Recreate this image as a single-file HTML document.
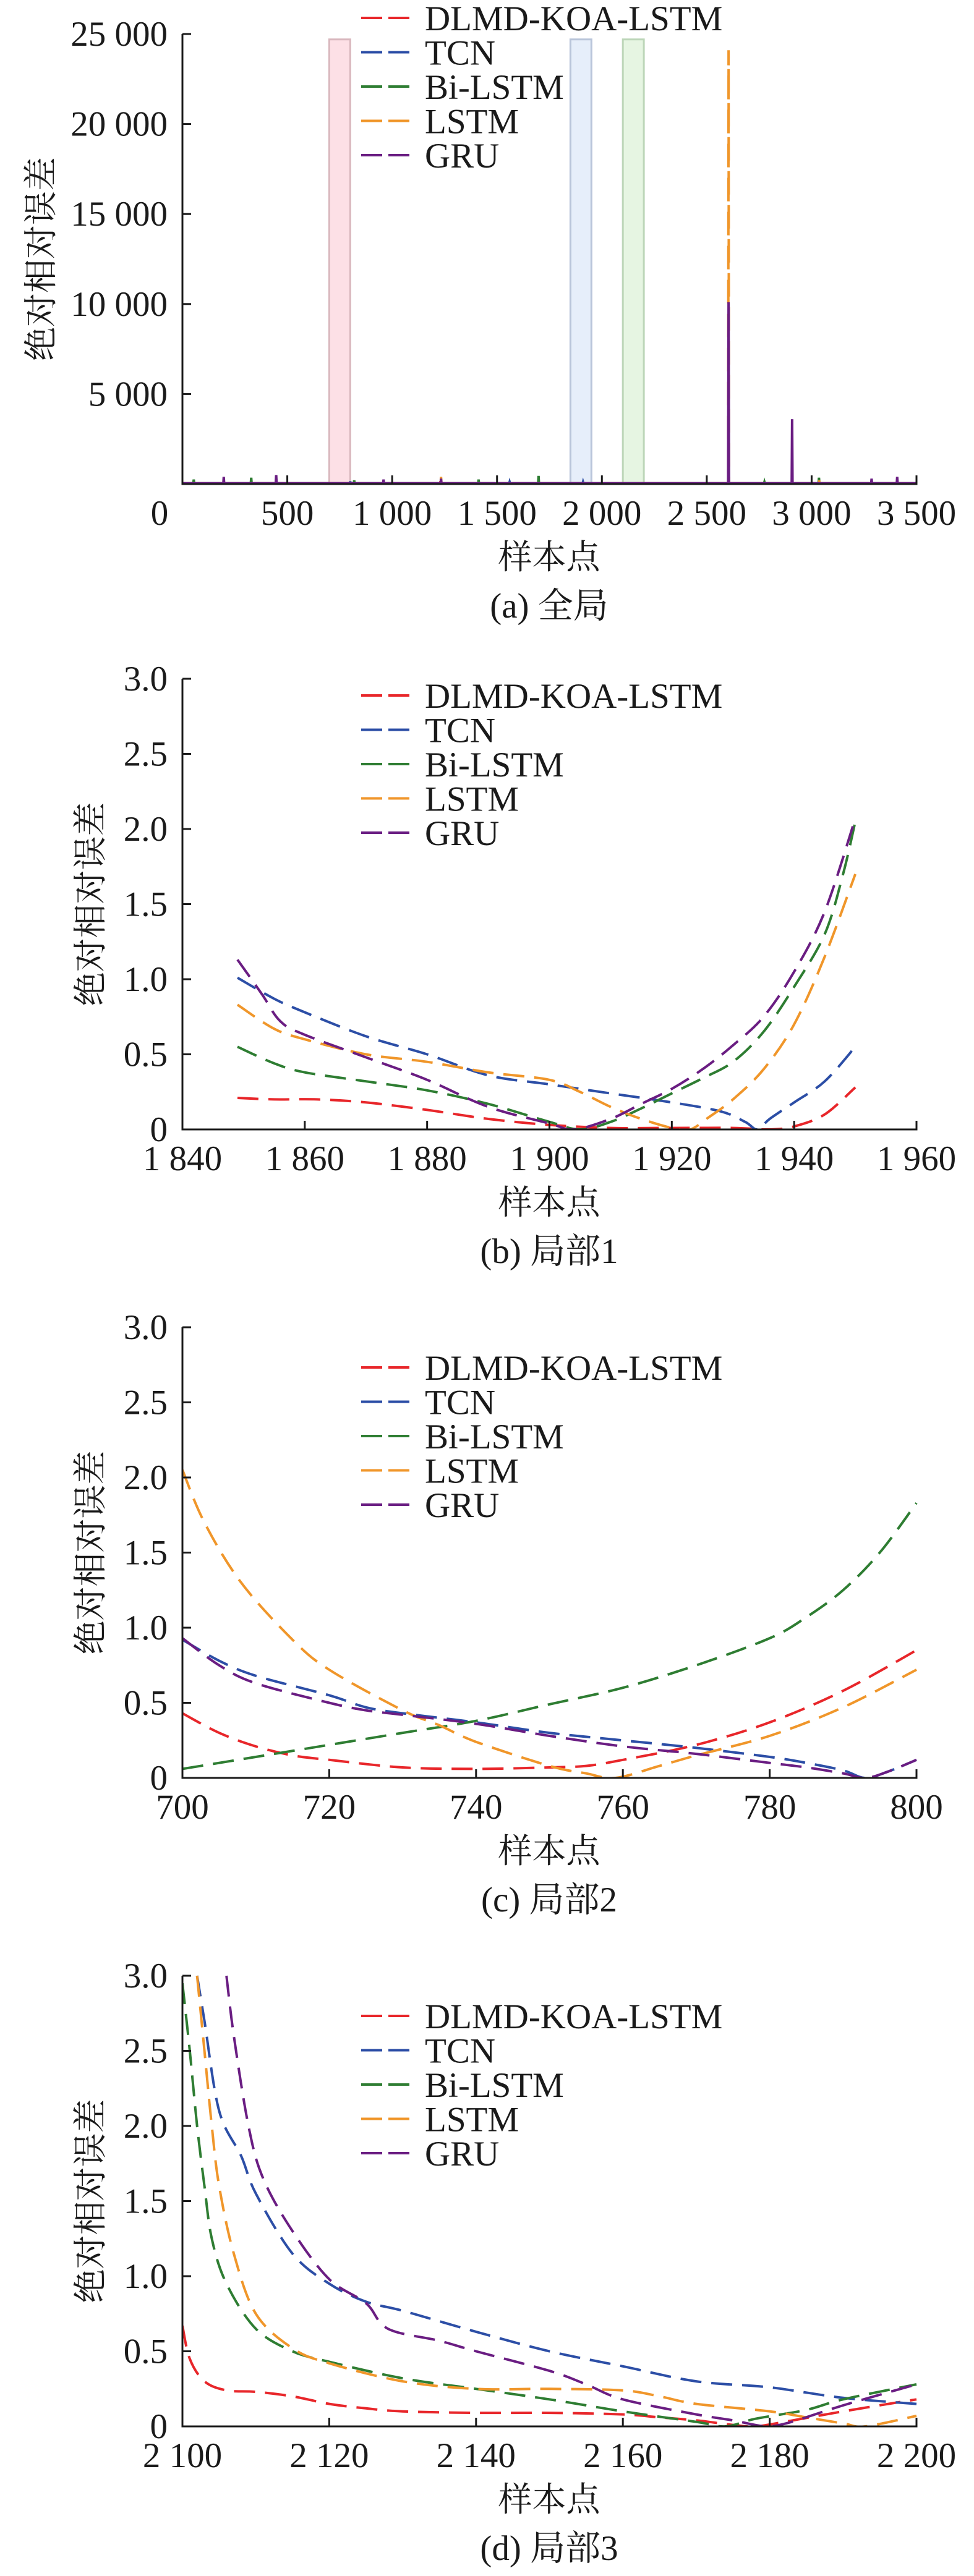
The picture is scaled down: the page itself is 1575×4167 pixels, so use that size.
<!DOCTYPE html>
<html><head><meta charset="utf-8">
<style>
html,body{margin:0;padding:0;background:#fff;}
svg{display:block;}
svg text{font-family:"Liberation Serif",serif;fill:#1a1a1a;}
svg text.cjk{font-family:"Liberation Serif","Noto Serif CJK SC","Noto Sans CJK SC",serif;}
</style></head>
<body>
<svg id="root" width="1575" height="4167" viewBox="0 0 1575 4167" xmlns="http://www.w3.org/2000/svg"></svg>
<script>
const seriesNames = ["DLMD-KOA-LSTM","TCN","Bi-LSTM","LSTM","GRU"];
const seriesColors = ["#e8262a","#2c4ea6","#2e7d32","#f0962a","#6a1d82"];

// Chart (a) global
const aXTicks = [0,500,1000,1500,2000,2500,3000,3500];
const aXTickLabels = ["0","500","1 000","1 500","2 000","2 500","3 000","3 500"];
const aYTicks = [5000,10000,15000,20000,25000];
const aYTickLabels = ["5 000","10 000","15 000","20 000","25 000"];
const aRegions = [[700,800],[1850,1950],[2100,2200]];
const aRegionTop = 24700;
const aSpikesRed = [[1230,150],[3035,100]];
const aSpikesBlue = [[800,150],[1560,120],[1910,120]];
const aSpikesGreen = [[54,250],[328,350],[819,200],[1412,250],[1698,450],[3035,350],[2775,120]];
const aSpikesOrange = [[2604,24100],[447,350],[1233,400],[3035,300]];
const aSpikesPurple = [[2604,10100],[2907,3600],[197,400],[447,500],[959,250],[1233,300],[3286,300],[3408,400]];

// Chart (b) 1840-1960
const bXTicks = [1840,1860,1880,1900,1920,1940,1960];
const bXTickLabels = ["1 840","1 860","1 880","1 900","1 920","1 940","1 960"];
const bRed = [[1849,0.21],[1855,0.2],[1862,0.2],[1870,0.18],[1880,0.13],[1890,0.07],[1900,0.03],[1910,0.01],[1920,0.01],[1930,0.01],[1936,0.0],[1940,0.02],[1945,0.1],[1950,0.28]];
const bBlue = [[1849,1.01],[1855,0.87],[1860,0.78],[1870,0.62],[1880,0.5],[1890,0.36],[1900,0.3],[1910,0.24],[1920,0.18],[1928,0.12],[1932,0.05],[1934,0.0],[1936,0.07],[1940,0.18],[1945,0.32],[1950,0.55]];
const bGreen = [[1849,0.55],[1855,0.44],[1860,0.38],[1870,0.32],[1880,0.26],[1890,0.17],[1900,0.05],[1905,0.0],[1910,0.05],[1915,0.14],[1920,0.24],[1925,0.34],[1930,0.45],[1935,0.65],[1940,0.95],[1945,1.3],[1948,1.7],[1950,2.05]];
const bOrange = [[1849,0.83],[1855,0.67],[1860,0.6],[1870,0.5],[1880,0.45],[1890,0.38],[1900,0.33],[1905,0.25],[1910,0.15],[1915,0.07],[1920,0.01],[1923,0.0],[1926,0.08],[1930,0.2],[1935,0.4],[1940,0.7],[1945,1.15],[1950,1.7]];
const bPurple = [[1849,1.13],[1853,0.9],[1856,0.72],[1860,0.63],[1870,0.48],[1880,0.33],[1890,0.15],[1900,0.04],[1904,0.0],[1910,0.07],[1915,0.17],[1920,0.27],[1925,0.4],[1930,0.56],[1935,0.75],[1940,1.05],[1945,1.45],[1950,2.07]];

// Chart (c) 700-800
const cXTicks = [700,720,740,760,780,800];
const cXTickLabels = ["700","720","740","760","780","800"];
const cRed = [[700,0.43],[705,0.3],[710,0.21],[715,0.15],[720,0.12],[730,0.07],[740,0.06],[750,0.07],[755,0.08],[760,0.12],[770,0.22],[780,0.37],[790,0.58],[800,0.85]];
const cBlue = [[700,0.92],[705,0.78],[710,0.68],[720,0.55],[725,0.47],[730,0.43],[740,0.37],[750,0.3],[760,0.25],[770,0.2],[780,0.14],[785,0.1],[790,0.05],[793,0.0],[796,0.04],[800,0.12]];
const cGreen = [[700,0.06],[710,0.14],[720,0.22],[730,0.3],[740,0.38],[750,0.49],[760,0.6],[770,0.75],[780,0.93],[785,1.07],[790,1.25],[795,1.5],[800,1.83]];
const cOrange = [[700,2.05],[703,1.7],[708,1.3],[715,0.92],[720,0.72],[730,0.45],[735,0.35],[740,0.24],[750,0.08],[755,0.03],[759,0.0],[765,0.08],[770,0.15],[780,0.28],[790,0.47],[800,0.72]];
const cPurple = [[700,0.93],[705,0.75],[710,0.63],[720,0.5],[725,0.45],[730,0.42],[740,0.36],[750,0.28],[760,0.21],[770,0.16],[780,0.1],[785,0.07],[790,0.03],[793,0.0],[796,0.04],[800,0.12]];

// Chart (d) 2100-2200
const dXTicks = [2100,2120,2140,2160,2180,2200];
const dXTickLabels = ["2 100","2 120","2 140","2 160","2 180","2 200"];
const dRed = [[2100,0.67],[2101,0.45],[2103,0.3],[2106,0.24],[2110,0.23],[2115,0.2],[2120,0.15],[2125,0.12],[2130,0.1],[2140,0.09],[2150,0.09],[2160,0.08],[2165,0.06],[2170,0.04],[2175,0.01],[2178,0.0],[2182,0.03],[2190,0.1],[2200,0.18]];
const dBlue = [[2102,3.0],[2103,2.7],[2105,2.1],[2108,1.8],[2110,1.55],[2115,1.15],[2120,0.95],[2125,0.83],[2130,0.77],[2140,0.63],[2150,0.5],[2160,0.4],[2170,0.3],[2180,0.26],[2190,0.19],[2200,0.15]];
const dGreen = [[2100,2.95],[2101,2.5],[2102,2.0],[2103,1.6],[2104,1.25],[2106,0.95],[2110,0.65],[2115,0.5],[2120,0.43],[2130,0.32],[2140,0.25],[2150,0.18],[2160,0.1],[2170,0.03],[2174,0.0],[2178,0.05],[2185,0.11],[2190,0.18],[2200,0.28]];
const dOrange = [[2102,3.0],[2103,2.5],[2104,2.0],[2105,1.6],[2107,1.15],[2110,0.75],[2115,0.52],[2120,0.42],[2130,0.3],[2140,0.25],[2150,0.25],[2160,0.24],[2165,0.2],[2170,0.15],[2180,0.1],[2185,0.06],[2190,0.02],[2193,0.0],[2200,0.07]];
const dPurple = [[2106,3.0],[2107,2.6],[2109,2.0],[2111,1.65],[2115,1.3],[2120,0.98],[2125,0.82],[2128,0.65],[2135,0.57],[2140,0.5],[2150,0.37],[2155,0.28],[2160,0.18],[2170,0.08],[2175,0.04],[2178,0.01],[2180,0.0],[2183,0.03],[2190,0.14],[2200,0.28]];

const localYTicks = [0,0.5,1,1.5,2,2.5,3];
const localYTickLabels = ["0","0.5","1.0","1.5","2.0","2.5","3.0"];

const NS = "http://www.w3.org/2000/svg";
const SERIF = "Liberation Serif, serif";
const CJK = "Liberation Serif, Noto Serif CJK SC, Noto Sans CJK SC, serif";
const root = document.getElementById('root');
function mk(tag, attrs, parent){
  const e = document.createElementNS(NS, tag);
  for (const k in attrs) e.setAttribute(k, attrs[k]);
  (parent||root).appendChild(e);
  return e;
}
function smoothPath(pts){
  if (pts.length<2) return "";
  let d = "M"+pts[0][0].toFixed(1)+","+pts[0][1].toFixed(1);
  for (let i=0;i<pts.length-1;i++){
    const p0=pts[Math.max(0,i-1)], p1=pts[i], p2=pts[i+1], p3=pts[Math.min(pts.length-1,i+2)];
    const c1x=p1[0]+(p2[0]-p0[0])/6, c1y=p1[1]+(p2[1]-p0[1])/6;
    const c2x=p2[0]-(p3[0]-p1[0])/6, c2y=p2[1]-(p3[1]-p1[1])/6;
    d+=" C"+c1x.toFixed(1)+","+c1y.toFixed(1)+" "+c2x.toFixed(1)+","+c2y.toFixed(1)+" "+p2[0].toFixed(1)+","+p2[1].toFixed(1);
  }
  return d;
}

function drawChart(cfg){
  const g = mk('g', {});
  
  
  const L=295, R=1482, T=cfg.top, B=cfg.bottom;
  const sx = v => L + (v-cfg.xmin)/(cfg.xmax-cfg.xmin)*(R-L);
  const sy = v => B - (v-cfg.ymin)/(cfg.ymax-cfg.ymin)*(B-T);

  if (cfg.regions){
    const fills=["#fde0e6","#e6eefa","#e6f5e2"], strokes=["#d9b8be","#b9c5da","#bdd6b9"];
    cfg.regions.forEach((r,i)=>{
      const rc = mk('rect',{x:sx(r[0]),y:sy(cfg.regionTop),width:sx(r[1])-sx(r[0]),height:B-sy(cfg.regionTop),fill:fills[i],stroke:strokes[i],'stroke-width':3},g);
      
      
    });
  }
  const clip = mk('clipPath',{id:'clip-'+cfg.name},g);
  mk('rect',{x:L,y:T-2,width:R-L+4,height:B-T+2},clip);
  cfg.series.forEach((s,i)=>{
    const pts = s.map(p=>[sx(p[0]), sy(Math.min(p[1],cfg.ymax))]);
    const p = mk('path',{d:cfg.spikes?cfg.spikePath(s,sx,sy):smoothPath(pts),fill:'none',stroke:seriesColors[i],'stroke-width':4,'stroke-dasharray':cfg.spikes?(i===3?'38 17':'none'):'34 16','clip-path':'url(#clip-'+cfg.name+')'},g);
    
    
  });
  const ax = mk('path',{d:`M${L},${T} L${L},${B} L${R},${B} L${R},${B-14}`,fill:'none',stroke:'#1a1a1a','stroke-width':3},g);
  
  
  cfg.yTicks.forEach((v,i)=>{
    const y=sy(v);
    mk('line',{x1:L,x2:L+14,y1:y,y2:y,stroke:'#1a1a1a','stroke-width':3},g);
    const t = mk('text',{x:271,y:y+19,'text-anchor':'end','font-size':57,'font-family':SERIF},g);
    t.textContent = cfg.yTickLabels[i];
    
    
  });
  cfg.xTicks.forEach((v,i)=>{
    const x=sx(v);
    mk('line',{x1:x,x2:x,y1:B,y2:B-14,stroke:'#1a1a1a','stroke-width':3},g);
    let lx = x;
    if (cfg.zeroShift && v===0) lx = 258;
    const t = mk('text',{x:lx,y:B+66,'text-anchor':'middle','font-size':57,'font-family':SERIF},g);
    t.textContent = cfg.xTickLabels[i];
    
    
  });
  const xt = mk('text',{x:888,y:B+137,'text-anchor':'middle','font-size':55,'font-family':CJK,'class':'cjk'},g);
  xt.textContent='样本点';
  
  
  const cy=(T+B)/2;
  const yt = mk('text',{x:cfg.ytx,y:cy,'text-anchor':'middle','font-size':55,'font-family':CJK,'class':'cjk',transform:`rotate(-90 ${cfg.ytx} ${cy})`,dy:19},g);
  yt.textContent='绝对相对误差';
  
  
  const cap = mk('text',{x:888,y:B+216,'text-anchor':'middle','font-size':57,'font-family':CJK,'class':'cjk'},g);
  cap.textContent=cfg.caption;
  
  
  seriesNames.forEach((n,i)=>{
    const y = cfg.legendTop + i*55.5;
    const ln = mk('line',{x1:584,x2:662,y1:y,y2:y,stroke:seriesColors[i],'stroke-width':4,'stroke-dasharray':'34 10'},g);
    
    
    const t = mk('text',{x:687,y:y+20,'font-size':57,'font-family':SERIF},g);
    t.textContent=n;
    
    
  });
}

function spikePath(spk, sx, sy){
  const base = 40;
  const s = spk.slice().sort((a,b)=>a[0]-b[0]);
  let d = `M${sx(0)},${sy(base)}`;
  s.forEach(p=>{
    d += ` L${sx(p[0]-2)},${sy(base)} L${sx(p[0])},${sy(p[1])} L${sx(p[0]+2)},${sy(base)}`;
  });
  d += ` L${sx(3500)},${sy(base)}`;
  return d;
}

drawChart({name:'chart-a-global',top:55,bottom:783,xmin:0,xmax:3500,ymin:0,ymax:25000,
  xTicks:aXTicks,xTickLabels:aXTickLabels,yTicks:aYTicks,yTickLabels:aYTickLabels,
  regions:aRegions,regionTop:aRegionTop,zeroShift:true,spikes:true,spikePath:spikePath,
  series:[aSpikesRed,aSpikesBlue,aSpikesGreen,aSpikesOrange,aSpikesPurple],
  ytx:66,caption:'(a) 全局',legendTop:29});
drawChart({name:'chart-b-local1',top:1098,bottom:1827,xmin:1840,xmax:1960,ymin:0,ymax:3,
  xTicks:bXTicks,xTickLabels:bXTickLabels,yTicks:localYTicks,yTickLabels:localYTickLabels,
  series:[bRed,bBlue,bGreen,bOrange,bPurple],ytx:146,caption:'(b) 局部1',legendTop:1125});
drawChart({name:'chart-c-local2',top:2147,bottom:2876,xmin:700,xmax:800,ymin:0,ymax:3,
  xTicks:cXTicks,xTickLabels:cXTickLabels,yTicks:localYTicks,yTickLabels:localYTickLabels,
  series:[cRed,cBlue,cGreen,cOrange,cPurple],ytx:146,caption:'(c) 局部2',legendTop:2212});
drawChart({name:'chart-d-local3',top:3196,bottom:3925,xmin:2100,xmax:2200,ymin:0,ymax:3,
  xTicks:dXTicks,xTickLabels:dXTickLabels,yTicks:localYTicks,yTickLabels:localYTickLabels,
  series:[dRed,dBlue,dGreen,dOrange,dPurple],ytx:146,caption:'(d) 局部3',legendTop:3261});
</script>
</body></html>
